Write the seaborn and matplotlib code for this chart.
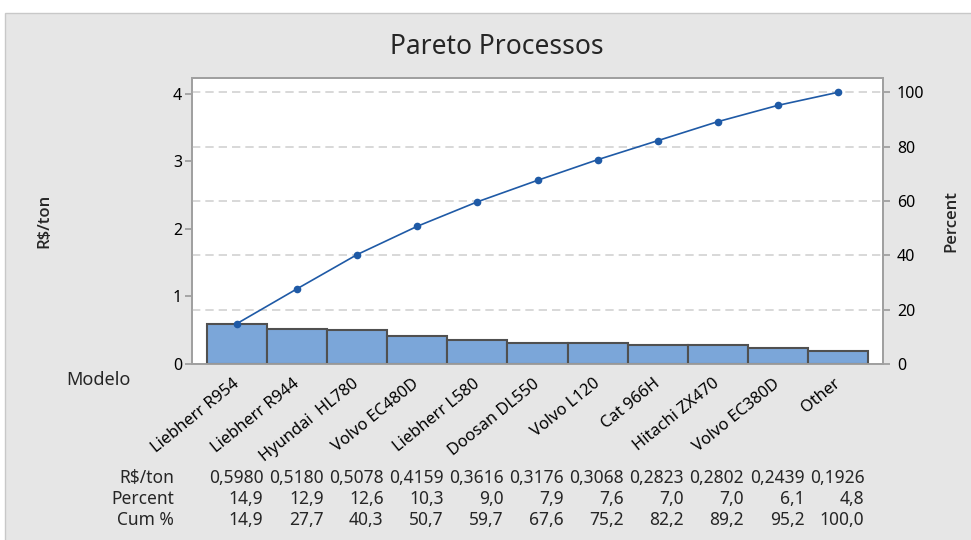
import numpy as np
import pandas as pd
import matplotlib
matplotlib.use('Agg')
import matplotlib.pyplot as plt
import matplotlib.transforms as mtransforms
from matplotlib.patches import Rectangle
import seaborn as sns

## dados
modelos = ['Liebherr R954', 'Liebherr R944', 'Hyundai  HL780', 'Volvo EC480D', 'Liebherr L580',
           'Doosan DL550', 'Volvo L120', 'Cat 966H', 'Hitachi ZX470', 'Volvo EC380D', 'Other']
custo = [0.5980, 0.5180, 0.5078, 0.4159, 0.3616, 0.3176, 0.3068, 0.2823, 0.2802, 0.2439, 0.1926]
percent = [14.9, 12.9, 12.6, 10.3, 9.0, 7.9, 7.6, 7.0, 7.0, 6.1, 4.8]
cum_pct = [14.9, 27.7, 40.3, 50.7, 59.7, 67.6, 75.2, 82.2, 89.2, 95.2, 100.0]

df = pd.DataFrame({'pos': np.arange(len(modelos)), 'Modelo': modelos,
                   'custo': custo, 'cum': cum_pct})

sns.set_theme(style='white')
plt.rcParams['font.family'] = ['Noto Sans', 'DejaVu Sans']

fig = plt.figure(figsize=(9.71, 5.4), dpi=100, facecolor='white')
# painel cinza de fundo
fig.patches.append(Rectangle((5 / 971, -0.01), 1.0, 1 - 13 / 540 + 0.01, transform=fig.transFigure,
                             facecolor='#e6e6e6', edgecolor='#c8c8c8', lw=1, zorder=-10))
ax = fig.add_axes([192 / 971, 1 - 364 / 540, (883 - 192) / 971, (364 - 78) / 540])
ax.set_facecolor('white')

sns.barplot(data=df, x='pos', y='custo', native_scale=True, width=1.0, color='#7ba6d9',
            saturation=1, edgecolor='#505050', linewidth=1.5, ax=ax, zorder=3)

ymax = 4.237
ax.set_xlim(-0.75, 10.75)
ax.set_ylim(0, ymax)
ax.set_yticks([0, 1, 2, 3, 4])

ax2 = ax.twinx()
sns.lineplot(data=df, x='pos', y='cum', color='#1f5aa6', lw=1.2, marker='o', markersize=5.5,
             markeredgewidth=0, ax=ax2, zorder=4)
ax2.set_ylim(0, ymax / sum(custo) * 100)
ax2.set_yticks([0, 20, 40, 60, 80, 100])
for y in [20, 40, 60, 80, 100]:
    ax2.axhline(y, color='#d2d2d2', ls=(0, (5, 3)), lw=1.2, zorder=0)

ax.set_xticks(df['pos'])
ax.set_xticklabels(modelos, rotation=39, ha='right', va='center', rotation_mode='anchor', fontsize=11.8)
ax.set_xlabel('')
ax2.set_xlabel('')
ax.set_ylabel('R$/ton', fontsize=12, fontweight=600, family=['Open Sans', 'DejaVu Sans'])
ax2.set_ylabel('Percent', fontsize=12, fontweight=600, family=['Open Sans', 'DejaVu Sans'])
ax.yaxis.set_label_coords((52 - 192) / 691, 0.5)
ax2.yaxis.set_label_coords((943 - 192) / 691, 0.5)

for a in (ax, ax2):
    for s in a.spines.values():
        s.set_color('#a0a0a0')
        s.set_linewidth(1.3)
    a.tick_params(axis='both', colors='#a0a0a0', labelcolor='black', labelsize=11.5,
                  length=5, width=1.3, direction='out')
ax.tick_params(axis='x', length=5, pad=8, labelsize=11.8)
ax.tick_params(axis='y', left=True, pad=2)
ax2.tick_params(axis='y', right=True, pad=5)

fig.text(497 / 971, 1 - 47 / 540, 'Pareto Processos', ha='center', va='center', fontsize=19)
fig.text(98 / 971, 1 - 380 / 540, 'Modelo', ha='center', va='center', fontsize=13)

## tabela embaixo
trans = mtransforms.blended_transform_factory(ax.transData, fig.transFigure)
linhas = [('R$/ton', ['{:.4f}'.format(v).replace('.', ',') for v in custo]),
          ('Percent', ['{:.1f}'.format(v).replace('.', ',') for v in percent]),
          ('Cum %', ['{:.1f}'.format(v).replace('.', ',') for v in cum_pct])]
for k, (nome, vals) in enumerate(linhas):
    yy = 1 - (478 + 21 * k) / 540
    fig.text(174 / 971, yy, nome, ha='right', va='center', fontsize=12.5)
    for i, v in enumerate(vals):
        ax.text(i + 0.44, yy, v, transform=trans, ha='right', va='center', fontsize=12.5)

fig.savefig('out.png', dpi=100, facecolor=fig.get_facecolor())
